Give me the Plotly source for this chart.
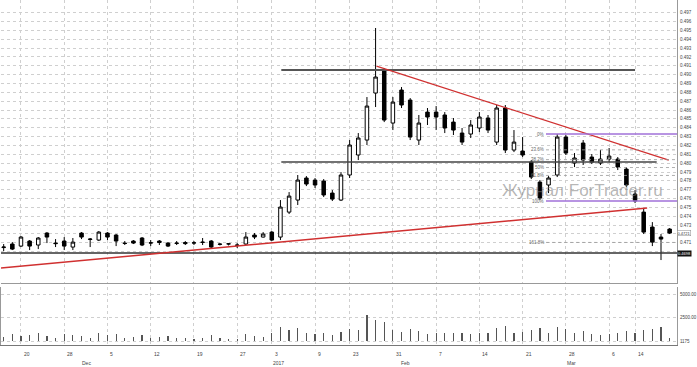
import plotly.graph_objects as go

# ---------------- data ----------------
idx = list(range(78))
opens = [0.47046,0.47086,0.47063,0.47120,0.47075,0.47210,0.47097,0.47120,0.47052,0.47210,
         0.47137,0.47131,0.47210,0.47188,0.47097,0.47120,0.47154,0.47097,0.47120,0.47097,
         0.47097,0.47103,0.47097,0.47108,0.47120,0.47086,0.47086,0.47075,0.47086,0.47188,
         0.47165,0.47221,0.47165,0.47447,0.47583,0.47832,0.47809,0.47798,0.47662,0.47583,
         0.47866,0.48092,0.48261,0.48792,0.49052,0.48453,0.48826,0.48713,0.48261,0.48577,
         0.48577,0.48544,0.48464,0.48340,0.48329,0.48397,0.48510,0.48238,0.48623,0.48148,
         0.48137,0.48012,0.47786,0.47753,0.47866,0.48295,0.48001,0.48227,0.48069,0.48001,
         0.48046,0.48046,0.47933,0.47651,0.47447,0.47278,0.47165,0.47255]
highs = [0.47086,0.47108,0.47176,0.47131,0.47165,0.47221,0.47142,0.47165,0.47154,0.47221,
         0.47154,0.47233,0.47221,0.47199,0.47120,0.47131,0.47165,0.47131,0.47131,0.47108,
         0.47120,0.47120,0.47120,0.47154,0.47131,0.47097,0.47097,0.47097,0.47221,0.47210,
         0.47221,0.47233,0.47583,0.47673,0.47866,0.47854,0.47832,0.47820,0.47696,0.47899,
         0.48261,0.48340,0.48747,0.49527,0.49075,0.48747,0.48860,0.48736,0.48544,0.48623,
         0.48645,0.48577,0.48510,0.48397,0.48487,0.48577,0.48544,0.48657,0.48657,0.48374,
         0.48295,0.48035,0.47809,0.47854,0.48329,0.48318,0.48114,0.48261,0.48103,0.48148,
         0.48171,0.48069,0.47956,0.47696,0.47493,0.47334,0.47199,0.47267]
lows = [0.47007,0.47018,0.47052,0.47018,0.47029,0.47097,0.47052,0.47018,0.47018,0.47142,
        0.47052,0.47120,0.47131,0.47063,0.47075,0.47086,0.47063,0.47063,0.47075,0.47052,
        0.47075,0.47075,0.47075,0.47075,0.47041,0.47070,0.47070,0.47041,0.47075,0.47142,
        0.47160,0.47120,0.47131,0.47425,0.47527,0.47741,0.47719,0.47617,0.47572,0.47572,
        0.47832,0.48035,0.48205,0.48634,0.48464,0.48374,0.48623,0.48261,0.48205,0.48431,
        0.48374,0.48340,0.48318,0.48205,0.48284,0.48351,0.48340,0.48205,0.48114,0.48125,
        0.48069,0.47820,0.47583,0.47662,0.47843,0.48092,0.47956,0.47979,0.47990,0.47979,
        0.48012,0.47922,0.47730,0.47549,0.47199,0.47063,0.46905,0.47199]
closes = [0.47052,0.47029,0.47165,0.47063,0.47154,0.47165,0.47091,0.47063,0.47108,0.47165,
          0.47142,0.47221,0.47165,0.47120,0.47092,0.47097,0.47075,0.47100,0.47103,0.47063,
          0.47094,0.47091,0.47100,0.47105,0.47052,0.47083,0.47089,0.47072,0.47165,0.47165,
          0.47199,0.47131,0.47504,0.47628,0.47809,0.47764,0.47753,0.47640,0.47594,0.47866,
          0.48205,0.48284,0.48645,0.48973,0.48487,0.48690,0.48657,0.48295,0.48453,0.48521,
          0.48521,0.48397,0.48374,0.48238,0.48431,0.48521,0.48374,0.48623,0.48148,0.48238,
          0.48092,0.47843,0.47606,0.47832,0.48295,0.48114,0.48058,0.48035,0.48012,0.48046,
          0.48080,0.47956,0.47753,0.47572,0.47221,0.47108,0.47142,0.47210]
volumes = [400,700,500,600,800,500,300,700,600,500,300,800,600,700,300,400,600,300,400,500,
           300,300,200,300,600,300,200,200,700,500,400,800,1500,1200,1400,900,700,800,600,1000,
           1300,1200,2800,2200,2000,1200,1000,1300,1100,700,800,900,800,900,700,800,900,1400,1600,900,
           1000,1200,1400,900,1500,1300,800,1100,700,600,700,800,1100,900,1200,1300,1500,300]

price_ticks = [round(0.470 + 0.001 * k, 3) for k in range(28)]
# labels at 0.470 / 0.472 are covered by the price markers on the axis
price_tick_text = ["" if v in (0.470, 0.472) else "%.3f" % v for v in price_ticks]
vol_ticks = [0, 2500, 5000]
vol_tick_text = ["1175", "2500.00", "5000.00"]

x_tick_idx = [2, 7, 12, 17, 22, 27, 31, 36, 40, 45, 50, 55, 60, 65, 70, 73]
x_tick_text = ["20", "28", "5", "12", "19", "27", "3", "9", "23", "31", "7", "14", "21", "28", "6", "14"]
month_idx = [9.6, 31.8, 46.5, 65.7]
month_text = ["Dec", "2017", "Feb", "Mar"]

# analysis levels / trendlines (index, price)
resistance = 0.49052
middle_level = 0.48012
support = 0.46984
upper_trend = [(43.1, 0.49097), (76.9, 0.48035)]
lower_trend = [(-0.31, 0.46815), (74.4, 0.47493)]
fib_hi, fib_lo = 0.48329, 0.47572
fib_levels = [0, 23.6, 38.2, 50, 61.8, 100, 161.8]
fib_start = 62.7
last_price_text = "0.4698"
mark_price = 0.47210
mark_text = "0.4721"

XR = [-0.31, 77.85]
FONT = "Liberation Sans"

fig = go.Figure()
fig.add_trace(go.Candlestick(
    x=idx, open=opens, high=highs, low=lows, close=closes,
    xaxis="x2", yaxis="y2",
    increasing=dict(line=dict(color="black", width=1), fillcolor="white"),
    decreasing=dict(line=dict(color="black", width=1), fillcolor="black"),
    whiskerwidth=0, showlegend=False, hoverinfo="skip"))
fig.add_trace(go.Bar(x=idx, y=volumes, width=0.14, marker=dict(color="#555", line=dict(width=0)),
                     xaxis="x", yaxis="y", showlegend=False, hoverinfo="skip"))

shapes = []
def seg(x0, y0, x1, y1, color, width, dash="solid"):
    shapes.append(dict(type="line", xref="x2", yref="y2", x0=x0, y0=y0, x1=x1, y1=y1,
                       line=dict(color=color, width=width, dash=dash)))

seg(32.1, resistance, 73.0, resistance, "#555", 2)
seg(32.1, middle_level, 75.5, middle_level, "#444", 1.5)
seg(XR[0], support, XR[1], support, "#333", 1.5)
seg(upper_trend[0][0], upper_trend[0][1], upper_trend[1][0], upper_trend[1][1], "#d03030", 1.2)
seg(lower_trend[0][0], lower_trend[0][1], lower_trend[1][0], lower_trend[1][1], "#d03030", 1.5)

annotations = []
for f in fib_levels:
    p = fib_hi - f / 100.0 * (fib_hi - fib_lo)
    if f in (0, 100):
        seg(fib_start, p, XR[1], p, "#a070d8", 1.5)
    else:
        seg(fib_start, p, XR[1], p, "#999", 0.8, "dot")
    annotations.append(dict(x=fib_start, y=p, xref="x2", yref="y2", text=("%g%%" % f),
                            showarrow=False, xanchor="right", yanchor="middle",
                            font=dict(size=4.5, color="#666", family=FONT)))

for i, t in zip(x_tick_idx, x_tick_text):
    annotations.append(dict(x=i, y=-0.012, xref="x", yref="paper", text=t, showarrow=False,
                            xanchor="left", yanchor="top", xshift=1,
                            font=dict(size=5, color="#444", family=FONT)))
for i, t in zip(month_idx, month_text):
    annotations.append(dict(x=i, y=-0.038, xref="x", yref="paper", text=t, showarrow=False,
                            xanchor="center", yanchor="top",
                            font=dict(size=5, color="#444", family=FONT)))

annotations.append(dict(x=0.86, y=0.449, xref="paper", yref="paper", text="Журнал ForTrader.ru",
                        showarrow=False, xanchor="center", yanchor="middle",
                        font=dict(size=17, color="rgba(120,120,120,0.55)", family=FONT)))
annotations.append(dict(x=1, y=support, xref="paper", yref="y2", text=last_price_text,
                        showarrow=False, xanchor="left", yanchor="middle", bgcolor="#111",
                        font=dict(size=4, color="white", family=FONT), borderpad=0))
annotations.append(dict(x=1, y=mark_price, xref="paper", yref="y2", text=mark_text,
                        showarrow=False, xanchor="left", yanchor="middle", bgcolor="white",
                        bordercolor="#888", borderwidth=0.5,
                        font=dict(size=4, color="#333", family=FONT), borderpad=0))

grid = dict(showgrid=True, gridcolor="#cfcfcf", griddash="dot", gridwidth=1, zeroline=False)
tickf = dict(size=4.5, color="#444", family=FONT)
fig.update_layout(
    width=697, height=367, margin=dict(l=0, r=17, t=0, b=22),
    paper_bgcolor="white", plot_bgcolor="white", boxgap=0.42, bargap=0,
    xaxis=dict(domain=[0, 1], range=XR, tickvals=x_tick_idx, showticklabels=False, ticks="",
               showline=True, linecolor="#777", linewidth=1, anchor="y",
               rangeslider=dict(visible=False), **grid),
    xaxis2=dict(domain=[0, 1], range=XR, tickvals=x_tick_idx, showticklabels=False, ticks="",
                showline=True, linecolor="#999", linewidth=1, anchor="y2", matches="x",
                rangeslider=dict(visible=False), **grid),
    yaxis=dict(domain=[0, 0.168], range=[-425, 5745], side="right", tickvals=vol_ticks,
               ticktext=vol_tick_text, showline=True, linecolor="#999", linewidth=1, mirror=True,
               ticks="", ticklabelstandoff=1, tickfont=tickf, **grid),
    yaxis2=dict(domain=[0.1797, 1], range=[0.466458, 0.498435], side="right", tickvals=price_ticks,
                ticktext=price_tick_text, showline=True, linecolor="#999", linewidth=1,
                ticks="", ticklabelstandoff=1, tickfont=tickf, **grid),
    shapes=shapes, annotations=annotations,
)
fig.write_html("out.html", config={"displayModeBar": False, "staticPlot": True},
               post_script="document.body.style.margin='0';document.body.style.overflow='hidden';")
